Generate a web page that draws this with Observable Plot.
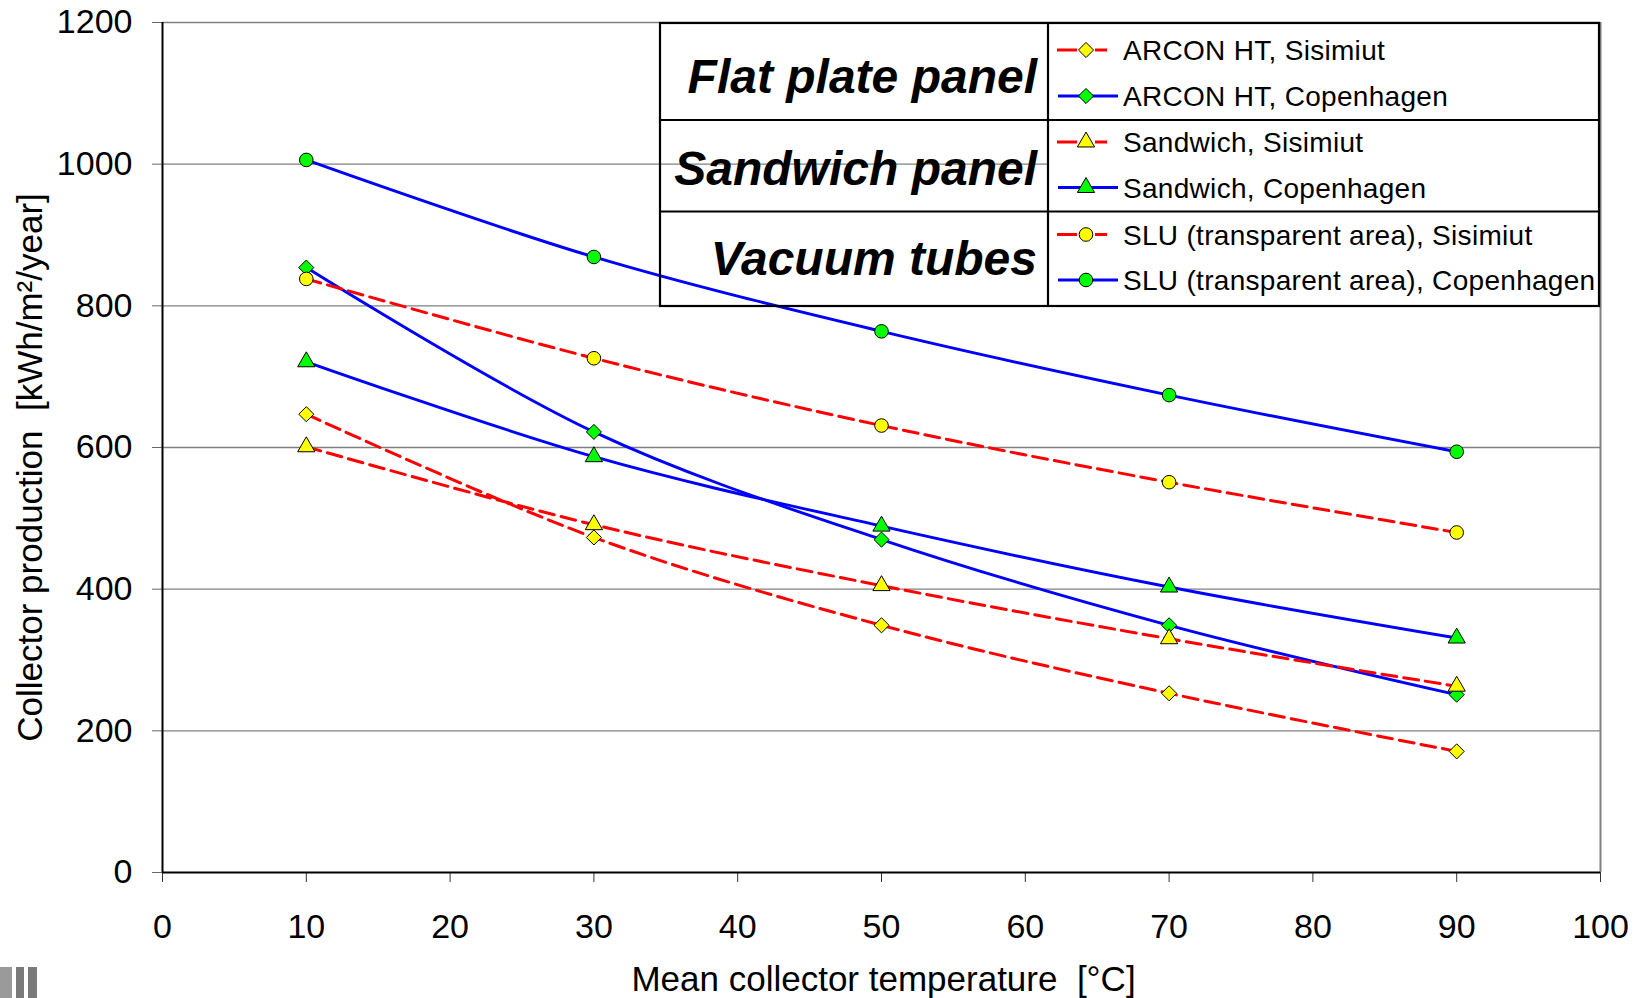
<!DOCTYPE html>
<html><head><meta charset="utf-8">
<script src="https://cdn.jsdelivr.net/npm/d3@7"></script>
<script src="https://cdn.jsdelivr.net/npm/@observablehq/plot@0.6"></script>
<style>
body{margin:0;background:#fff;}
#wrap{position:relative;width:1642px;height:998px;overflow:hidden;font-family:"Liberation Sans",Arial,sans-serif;background:#fff;}
#wrap > svg{position:absolute;left:0;top:0;}
.frag{position:absolute;background:#7a7a7a;}
</style></head><body><div id="wrap"></div>
<script>
// ---- data ----
const temperatures = [10, 30, 50, 70, 90];
const seriesNames = [
  "ARCON HT, Sisimiut",
  "ARCON HT, Copenhagen",
  "Sandwich, Sisimiut",
  "Sandwich, Copenhagen",
  "SLU (transparent area), Sisimiut",
  "SLU (transparent area), Copenhagen"
];
const arconSisimiut      = [647, 473, 349, 253, 171];
const arconCopenhagen    = [854, 622, 470, 349, 251];
const sandwichSisimiut   = [601, 491, 405, 330, 263];
const sandwichCopenhagen = [721, 587, 489, 403, 331];
const sluSisimiut        = [838, 726, 631, 551, 480];
const sluCopenhagen      = [1006, 869, 764, 674, 594];
const panelGroups = ["Flat plate panel", "Sandwich panel", "Vacuum tubes"];
const seriesPanel = [0, 0, 1, 1, 2, 2];
const seriesSite = ["Sisimiut", "Copenhagen", "Sisimiut", "Copenhagen", "Sisimiut", "Copenhagen"];
const xTicks = [0, 10, 20, 30, 40, 50, 60, 70, 80, 90, 100];
const yTicks = [0, 200, 400, 600, 800, 1000, 1200];
const xTitle = "Mean collector temperature\u00a0 [°C]";
const yTitle = "Collector production\u00a0 [kWh/m²/year]";

// ---- styles (kept apart from data) ----
const siteStyle = {
  Sisimiut:   {stroke: "#ff0000", dash: "15,7", width: 3.0, fill: "#ffff00"},
  Copenhagen: {stroke: "#0000ff", dash: null,   width: 2.9, fill: "#00ff00"}
};
const panelSymbol = [
  {name: "diamond2", d3sym: d3.symbolDiamond2, r: 6.8},
  {name: "triangle", d3sym: d3.symbolTriangle, r: 6.4},
  {name: "circle",   d3sym: d3.symbolCircle,   r: 6.8}
];

const seriesValues = [arconSisimiut, arconCopenhagen, sandwichSisimiut, sandwichCopenhagen, sluSisimiut, sluCopenhagen];
const rows = seriesValues.flatMap((vals, i) =>
  vals.map((v, j) => ({series: seriesNames[i], x: temperatures[j], y: v})));

const marks = [
  Plot.gridY(yTicks.filter(d => d > 0), {stroke: "#808080", strokeOpacity: 1, strokeWidth: 1.3}),
  Plot.ruleX([100], {stroke: "#808080", strokeWidth: 2}),
  Plot.axisY(yTicks, {tickSize: 10, tickPadding: 20, stroke: "#666", fill: "#000", fontSize: 34, label: null, tickFormat: d => String(d)}),
  Plot.axisX(xTicks, {tickSize: 10, tickPadding: 31, stroke: "#333", fill: "#000", fontSize: 34, label: null, tickFormat: d => String(d)}),
  Plot.ruleX([0], {stroke: "#000", strokeWidth: 2}),
  Plot.ruleY([0], {stroke: "#000", strokeWidth: 2}),
  Plot.text([xTitle], {frameAnchor: "bottom", text: d => d, fontSize: 35, fill: "#000", dx: 2, dy: 107,
    lineAnchor: "middle", textAnchor: "middle"}),
  Plot.text([yTitle], {frameAnchor: "left", text: d => d, fontSize: 35, fill: "#000", rotate: -90, dx: -132, dy: 20,
    lineAnchor: "middle", textAnchor: "middle"})
];
seriesNames.forEach((name, i) => {
  const st = siteStyle[seriesSite[i]];
  const sym = panelSymbol[seriesPanel[i]];
  const data = rows.filter(d => d.series === name);
  marks.push(Plot.line(data, {x: "x", y: "y", stroke: st.stroke, strokeWidth: st.width,
    strokeDasharray: st.dash || undefined, curve: "catmull-rom"}));
  marks.push(Plot.dot(data, {x: "x", y: "y", symbol: sym.name, r: sym.r, fill: st.fill,
    stroke: "#000", strokeWidth: 1}));
});

const chart = Plot.plot({
  width: 1642, height: 998,
  marginLeft: 162, marginRight: 42, marginTop: 22, marginBottom: 126,
  x: {domain: [0, 100]},
  y: {domain: [0, 1200]},
  style: {fontFamily: "'Liberation Sans', Arial, sans-serif", fontSize: "34px", background: "#fff", color: "#000", overflow: "visible"},
  marks
});
const wrap = document.getElementById("wrap");
wrap.appendChild(chart);

// ---- legend table overlay ----
const L = {x0: 660, x1: 1048, x2: 1599, y: [23, 120, 211.5, 306]};
const groupLabelY = [76, 168, 257.5];
const entryY = [50, 96, 142, 187.5, 234.5, 280];
const lg = d3.create("svg").attr("width", 1642).attr("height", 998)
  .style("position", "absolute").style("left", "0").style("top", "0")
  .attr("font-family", "'Liberation Sans', Arial, sans-serif");
lg.append("rect").attr("x", L.x1).attr("y", L.y[0]).attr("width", L.x2 - L.x1).attr("height", L.y[3] - L.y[0]).attr("fill", "#fff");
lg.append("rect").attr("x", L.x0).attr("y", L.y[0]).attr("width", L.x2 - L.x0).attr("height", L.y[3] - L.y[0])
  .attr("fill", "none").attr("stroke", "#000").attr("stroke-width", 2.2);
lg.append("line").attr("x1", L.x1).attr("x2", L.x1).attr("y1", L.y[0]).attr("y2", L.y[3]).attr("stroke", "#000").attr("stroke-width", 2.2);
[L.y[1], L.y[2]].forEach(y => lg.append("line").attr("x1", L.x0).attr("x2", L.x2).attr("y1", y).attr("y2", y).attr("stroke", "#000").attr("stroke-width", 2.2));
panelGroups.forEach((g, k) => {
  lg.append("text").attr("x", L.x1 - 11).attr("y", groupLabelY[k] + 0.358 * 48).attr("text-anchor", "end")
    .attr("font-size", 48).attr("font-weight", "bold").attr("font-style", "italic").text(g);
});
seriesNames.forEach((name, i) => {
  const st = siteStyle[seriesSite[i]];
  const sym = panelSymbol[seriesPanel[i]];
  const cy = entryY[i];
  if (st.dash) {
    lg.append("line").attr("x1", 1057).attr("x2", 1077).attr("y1", cy).attr("y2", cy).attr("stroke", st.stroke).attr("stroke-width", st.width);
    lg.append("line").attr("x1", 1095).attr("x2", 1107).attr("y1", cy).attr("y2", cy).attr("stroke", st.stroke).attr("stroke-width", st.width);
  } else {
    lg.append("line").attr("x1", 1058).attr("x2", 1118).attr("y1", cy).attr("y2", cy).attr("stroke", st.stroke).attr("stroke-width", st.width);
  }
  lg.append("path").attr("d", d3.symbol(sym.d3sym, Math.PI * sym.r * sym.r)())
    .attr("transform", `translate(1086,${cy})`).attr("fill", st.fill).attr("stroke", "#000").attr("stroke-width", 1);
  lg.append("text").attr("x", 1123).attr("y", cy + 0.358 * 28).attr("font-size", 28).attr("letter-spacing", "0.3px")
    .attr("fill", "#000").text(name);
});
wrap.appendChild(lg.node());

// cropped logo fragment at the bottom-left corner of the source image
[[0, 967, 12, 31, "#9a9a9a"], [16, 967, 8, 31, "#7a7a7a"], [28, 967, 9, 31, "#7a7a7a"]].forEach(([x, y, w, h, c]) => {
  const d = document.createElement("div");
  d.className = "frag";
  Object.assign(d.style, {left: x + "px", top: y + "px", width: w + "px", height: h + "px", background: c});
  wrap.appendChild(d);
});
</script></body></html>
